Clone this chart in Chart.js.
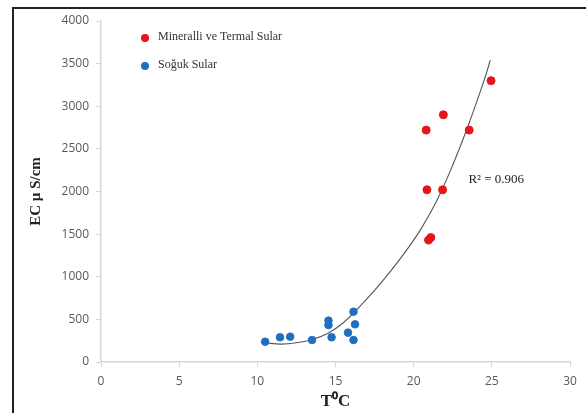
<!DOCTYPE html>
<html>
<head>
<meta charset="utf-8">
<script src="https://cdn.jsdelivr.net/npm/chart.js@4"></script>
<style>
  html,body{margin:0;padding:0;background:#fff;}
  #wrap{position:relative;width:586px;height:413px;}
  #frame{position:absolute;left:12px;top:7px;right:-5px;bottom:-5px;border-top:2px solid #222;border-left:2px solid #222;pointer-events:none;}
</style>
</head>
<body>
<div id="wrap">
  <canvas id="ch" width="586" height="413"></canvas>
  <div id="frame"></div>
</div>
<script>
// ── data ──
const mineralT  = [24.95, 21.9, 20.8, 23.55, 20.85, 21.85, 20.95, 21.1];
const mineralEC = [3300,  2900, 2720, 2720,  2020,  2020,  1430,  1460];

const sogukT  = [10.5, 11.45, 12.1, 13.5, 14.55, 14.55, 14.75, 16.15, 16.25, 15.8, 16.15];
const sogukEC = [ 238,  290,   297,  258,  485,   434,   290,   590,   442,   344,  258];

// trend line (polynomial, as drawn)
const trendT  = [10.5, 11.5, 12.5, 13.5, 14.5, 15.5, 16.5, 17.5, 18.5, 19.5, 20.5, 21.5, 22.5, 23.5, 24.5, 24.9];
const trendEC = [ 225,  210,  225,  265,  335,  460,  640,  840, 1060, 1300, 1570, 1900, 2310, 2780, 3300, 3540];

const seriesNames = ['Mineralli ve Termal Sular','Soğuk Sular'];
const r2Label = 'R² = 0.906';

const C = {red:'#e8141c', blue:'#1f6fc0', line:'#555', axis:'#d6d6d6', tick:'#595959'};
const pts = (xs,ys)=>xs.map((x,i)=>({x, y:ys[i]}));

// legend + R² text, drawn in the plot like the Excel original
const annot = {
  id:'annot',
  afterDraw(chart){
    const {ctx, scales:{x,y}} = chart;
    ctx.save();
    ctx.font = '12px "Liberation Serif", serif';
    ctx.textBaseline = 'middle';
    [[C.red,37],[C.blue,65]].forEach(([col,yy],i)=>{
      ctx.fillStyle = col;
      ctx.beginPath(); ctx.arc(145, yy+1, 4, 0, Math.PI*2); ctx.fill();
      ctx.fillStyle = '#333';
      ctx.fillText(seriesNames[i], 158, yy);
    });
    ctx.font = '13px "Liberation Serif", serif';
    ctx.fillStyle = '#222';
    ctx.fillText(r2Label, x.getPixelForValue(23.5), y.getPixelForValue(2140));
    ctx.restore();
  }
};

new Chart(document.getElementById('ch'), {
  type:'scatter',
  data:{
    datasets:[
      {label:seriesNames[0], data:pts(mineralT, mineralEC), backgroundColor:C.red, borderColor:C.red, pointRadius:4, order:1},
      {label:seriesNames[1], data:pts(sogukT, sogukEC), backgroundColor:C.blue, borderColor:C.blue, pointRadius:3.8, order:1},
      {label:'trend', type:'line', data:pts(trendT, trendEC), borderColor:C.line, borderWidth:1.1, pointRadius:0, tension:0.4, fill:false, order:2}
    ]
  },
  options:{
    responsive:false, animation:false,
    layout:{padding:{top:21, right:16, left:0, bottom:0}},
    plugins:{legend:{display:false}, tooltip:{enabled:false}},
    scales:{
      x:{
        type:'linear', min:0, max:30,
        ticks:{stepSize:5, color:C.tick, padding:7, font:{family:'Open Sans', size:12}, callback:v=>String(v)},
        grid:{drawOnChartArea:false, color:C.axis, tickLength:5},
        border:{color:C.axis, width:1.5},
        title:{display:true, text:'T⁰C', color:'#222', font:{family:'Liberation Serif', size:17, weight:'bold'}, padding:{top:0,bottom:1}},
        afterFit:s=>{ s.height = 51; }
      },
      y:{
        min:0, max:4000,
        ticks:{stepSize:500, color:C.tick, padding:7, font:{family:'Open Sans', size:12}, callback:v=>String(v)},
        grid:{drawOnChartArea:false, color:C.axis, tickLength:5},
        border:{color:C.axis, width:1.5},
        title:{display:true, text:'EC µ S/cm', color:'#222', font:{family:'Liberation Serif', size:15, weight:'bold'}, padding:{top:27,bottom:0}},
        afterFit:s=>{ s.width = 101; }
      }
    }
  },
  plugins:[annot]
});
</script>
</body>
</html>
